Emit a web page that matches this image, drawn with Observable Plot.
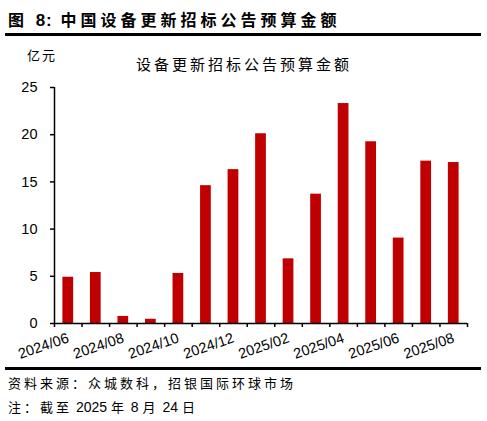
<!DOCTYPE html>
<html>
<head>
<meta charset="utf-8">
<script src="https://cdn.jsdelivr.net/npm/d3@7"></script>
<script src="https://cdn.jsdelivr.net/npm/@observablehq/plot@0.6"></script>
<style>
  body { margin: 0; background: #fff; }
  #wrap { position: relative; width: 487px; height: 421px; font-family: "Noto Sans CJK SC", sans-serif; color: #000; }
  .abs { position: absolute; white-space: nowrap; line-height: 1; }
  #title { left: 8px; top: 11px; font-size: 16px; font-weight: bold; letter-spacing: 4px; }
  .rule { position: absolute; left: 5px; width: 476px; height: 2.5px; background: #000; }
  #unit { left: 27px; top: 48px; font-size: 13px; letter-spacing: 2px; }
  #ctitle { left: 136px; top: 56px; font-size: 15px; letter-spacing: 3px; }
  #src { left: 8px; top: 376px; font-size: 13px; letter-spacing: 3px; }
  #note { left: 8px; top: 400px; font-size: 13px; letter-spacing: 3px; }
  .num { font-family: "Liberation Sans", Arial, sans-serif; font-size: 14px; letter-spacing: 0; }
  #chart { position: absolute; left: 0; top: 40px; }
</style>
</head>
<body>
<div id="wrap">
  <div class="abs" id="title">图 <span class="num" style="font-size:17px;letter-spacing:1px">8:</span> 中国设备更新招标公告预算金额</div>
  <div class="rule" style="top:33px"></div>
  <div class="abs" id="unit">亿元</div>
  <div class="abs" id="ctitle">设备更新招标公告预算金额</div>
  <div id="chart"></div>
  <div class="rule" style="top:367px"></div>
  <div class="abs" id="src">资料来源：众城数科，招银国际环球市场</div>
  <div class="abs" id="note">注：截至<span class="num"> 2025 </span>年<span class="num"> 8 </span>月<span class="num"> 24 </span>日</div>
</div>
<script>
// monthly budget of equipment-renewal tenders, 亿元
const months = ["2024/06","2024/07","2024/08","2024/09","2024/10","2024/11","2024/12",
  "2025/01","2025/02","2025/03","2025/04","2025/05","2025/06","2025/07","2025/08"];
const amounts = [4.9, 5.4, 0.75, 0.45, 5.3, 14.6, 16.3, 20.1, 6.85, 13.7, 23.3, 19.25, 9.05, 17.2, 17.05];
const yTicks = [0, 5, 10, 15, 20, 25];

const data = months.map((m, i) => ({i, month: m, value: amounts[i]}));
// label every other month, at the middle of its slot
const labelPos = months.map((m, i) => i).filter(i => i % 2 === 0).map(i => i + 0.5);

const chart = Plot.plot({
  width: 487,
  height: 325,
  marginTop: 47,
  marginBottom: 42,
  marginLeft: 54,
  marginRight: 20,
  style: {fontFamily: "'Liberation Sans', Arial, sans-serif", fontSize: "14px", color: "#000", background: "transparent"},
  x: {type: "linear", domain: [0, months.length]},
  y: {domain: [0, 25]},
  marks: [
    Plot.rectY(data, {x1: "i", x2: d => d.i + 1, y: "value", fill: "#c00000", insetLeft: 8.4, insetRight: 8.4}),
    Plot.ruleY([0], {stroke: "#000", strokeWidth: 1.5}),
    Plot.ruleX([0], {stroke: "#000", strokeWidth: 1.5}),
    Plot.axisY({ticks: yTicks, tickSize: 4, tickPadding: 13, tickFormat: d => d, label: null, strokeWidth: 1.5, fontSize: 14.5}),
    Plot.axisX({ticks: d3.range(months.length + 1), tickSize: 4, tickFormat: () => "", label: null, strokeWidth: 1.5}),
    Plot.axisX({ticks: labelPos, tickSize: 0, tickPadding: 14, tickRotate: -19, fontSize: 14.5,
      tickFormat: d => months[d - 0.5], label: null})
  ]
});
document.getElementById("chart").append(chart);
</script>
</body>
</html>
